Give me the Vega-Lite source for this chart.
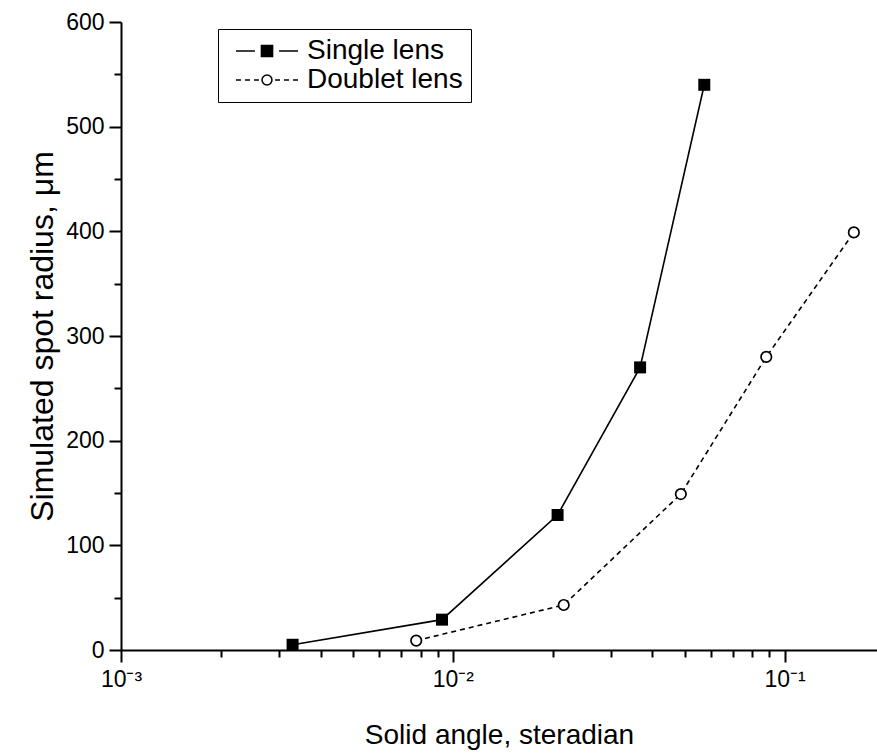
{
  "$schema": "https://vega.github.io/schema/vega-lite/v6.json",
  "width": 756,
  "height": 628,
  "autosize": {"type": "none"},
  "padding": {"left": 121, "top": 22, "right": 0, "bottom": 104},
  "background": "white",
  "config": {
    "view": {"stroke": null},
    "font": "Liberation Sans",
    "axis": {
      "domainColor": "black",
      "domainWidth": 2,
      "tickColor": "black",
      "tickWidth": 2,
      "grid": false,
      "labelColor": "black",
      "titleColor": "black",
      "labelFont": "Liberation Sans",
      "titleFont": "Liberation Sans",
      "labelFontSize": 23,
      "titleFontSize": 28,
      "titleFontWeight": "normal",
      "labelOverlap": false,
      "labelFlush": false
    }
  },
  "data": {
    "values": [
      {"series": "Single lens", "angle": 0.00329, "radius": 5},
      {"series": "Single lens", "angle": 0.00928, "radius": 29},
      {"series": "Single lens", "angle": 0.0207, "radius": 129},
      {"series": "Single lens", "angle": 0.0367, "radius": 270},
      {"series": "Single lens", "angle": 0.0573, "radius": 540},
      {"series": "Doublet lens", "angle": 0.00776, "radius": 9},
      {"series": "Doublet lens", "angle": 0.0216, "radius": 43},
      {"series": "Doublet lens", "angle": 0.0487, "radius": 149},
      {"series": "Doublet lens", "angle": 0.0881, "radius": 280},
      {"series": "Doublet lens", "angle": 0.1618, "radius": 399}
    ]
  },
  "encoding": {
    "x": {
      "field": "angle",
      "type": "quantitative",
      "scale": {"type": "log", "domain": [0.001, 0.19], "nice": false},
      "axis": {
        "title": "Solid angle, steradian",
        "titlePadding": 30,
        "values": [0.001, 0.002, 0.003, 0.004, 0.005, 0.006, 0.007, 0.008, 0.009, 0.01, 0.02, 0.03, 0.04, 0.05, 0.06, 0.07, 0.08, 0.09, 0.1],
        "labelExpr": "datum.value == 0.001 ? '10⁻³' : datum.value == 0.01 ? '10⁻²' : datum.value == 0.1 ? '10⁻¹' : ''",
        "tickSize": {"condition": {"test": "indexof([0.001, 0.01, 0.1], datum.value) >= 0", "value": 12}, "value": 7},
        "labelPadding": 6
      }
    },
    "y": {
      "field": "radius",
      "type": "quantitative",
      "scale": {"domain": [0, 600], "nice": false},
      "axis": {
        "title": "Simulated spot radius, μm",
        "titleFontSize": 32,
        "titlePadding": 6,
        "values": [0, 50, 100, 150, 200, 250, 300, 350, 400, 450, 500, 550, 600],
        "labelExpr": "datum.value % 100 === 0 ? datum.label : ''",
        "tickSize": {"condition": {"test": "datum.value % 100 === 0", "value": 12}, "value": 7},
        "labelPadding": 5
      }
    }
  },
  "layer": [
    {
      "transform": [{"filter": "datum.series === 'Single lens'"}],
      "mark": {"type": "line", "color": "black", "strokeWidth": 1.6},
      "encoding": {}
    },
    {
      "transform": [{"filter": "datum.series === 'Doublet lens'"}],
      "mark": {"type": "line", "color": "black", "strokeWidth": 1.6, "strokeDash": [5, 4]},
      "encoding": {}
    },
    {
      "transform": [{"filter": "datum.series === 'Single lens'"}],
      "mark": {"type": "point", "shape": "square", "filled": true, "color": "black", "size": 144, "opacity": 1}
    },
    {
      "transform": [{"filter": "datum.series === 'Doublet lens'"}],
      "mark": {"type": "point", "shape": "circle", "filled": false, "fill": "white", "stroke": "black", "strokeWidth": 1.7, "size": 110, "opacity": 1}
    },
    {
      "mark": {"type": "point", "filled": true, "stroke": "black", "strokeWidth": 1.5, "opacity": 0},
      "encoding": {
        "shape": {
          "field": "series",
          "type": "nominal",
          "scale": {
            "domain": ["Single lens", "Doublet lens"],
            "range": [
              "M-1,0H-0.39M0.39,0H1M-0.18,-0.18H0.18V0.18H-0.18Z",
              "M-1,0H-0.84M-0.71,0H-0.55M-0.42,0H-0.26M0.26,0H0.42M0.55,0H0.71M0.84,0H1M-0.16,0A0.16,0.16,0,1,1,0.16,0A0.16,0.16,0,1,1,-0.16,0Z"
            ]
          },
          "legend": {
            "title": null,
            "orient": "none",
            "legendX": 97,
            "legendY": 7,
            "symbolSize": 3844,
            "symbolStrokeColor": "black",
            "symbolStrokeWidth": 1.5,
            "symbolOpacity": 1,
            "symbolFillColor": "black",
            "labelFont": "Liberation Sans",
            "labelFontSize": 28,
            "labelColor": "black",
            "labelOffset": 8,
            "labelLimit": 400,
            "clipHeight": 28,
            "rowPadding": 1,
            "padding": 8,
            "symbolOffset": 9,
            "strokeColor": "black",
            "fillColor": "white"
          }
        },
        "fill": {
          "field": "series",
          "type": "nominal",
          "scale": {"domain": ["Single lens", "Doublet lens"], "range": ["black", "white"]},
          "legend": {
            "title": null,
            "orient": "none",
            "legendX": 97,
            "legendY": 7,
            "symbolSize": 3844,
            "symbolStrokeColor": "black",
            "symbolStrokeWidth": 1.5,
            "symbolOpacity": 1,
            "labelFont": "Liberation Sans",
            "labelFontSize": 28,
            "labelColor": "black",
            "labelOffset": 8,
            "labelLimit": 400,
            "clipHeight": 28,
            "rowPadding": 1,
            "padding": 8,
            "symbolOffset": 9,
            "strokeColor": "black",
            "fillColor": "white"
          }
        }
      }
    }
  ]
}
